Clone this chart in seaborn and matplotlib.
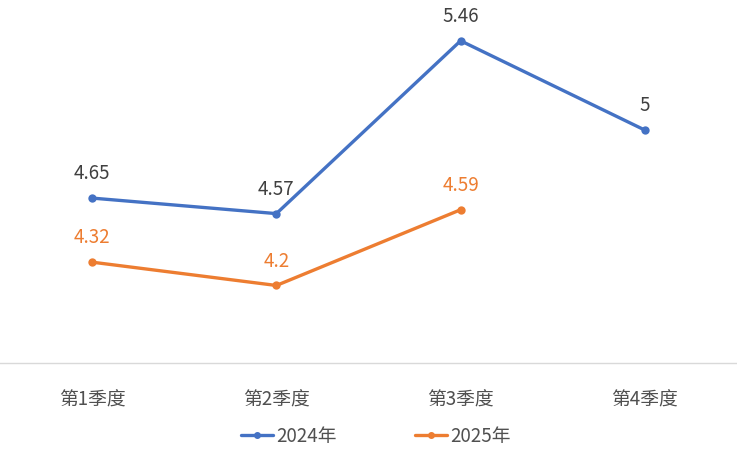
import matplotlib.pyplot as plt
import numpy as np
import pandas as pd
import seaborn as sns

quarters = ['第1季度', '第2季度', '第3季度', '第4季度']
values_2024 = [4.65, 4.57, 5.46, 5.0]
values_2025 = [4.32, 4.2, 4.59, np.nan]
series_names = ['2024年', '2025年']
colors = ['#4472C4', '#ED7D31']

sns.set_theme(style='white')
plt.rcParams['font.family'] = ['Noto Sans CJK SC', 'DejaVu Sans']

df = pd.DataFrame({
    'quarter': quarters * 2,
    'x': list(range(len(quarters))) * 2,
    'value': values_2024 + values_2025,
    'series': [series_names[0]] * 4 + [series_names[1]] * 4,
})

fig = plt.figure(figsize=(7.37, 4.5), dpi=100)
ax = fig.add_axes([0, 0.193, 1, 0.807])

sns.lineplot(data=df, x='x', y='value', hue='series', palette=colors,
             marker='o', markersize=6, markeredgewidth=0, linewidth=2.4,
             ax=ax, legend=False)

# data labels
label_colors = ['#404040', colors[1]]
for vals, c in zip([values_2024, values_2025], label_colors):
    for i, v in enumerate(vals):
        if np.isnan(v):
            continue
        txt = f'{v:g}'
        ax.annotate(txt, (i, v), xytext=(0, 10), textcoords='offset points',
                    ha='center', va='bottom', fontsize=13.5, color=c)

ax.set_xlim(-0.5, 3.5)
ax.set_ylim(3.8, 5.67)
ax.set_yticks([])
ax.set_xticks(range(len(quarters)))
ax.set_xticklabels(quarters, fontsize=13.5, color='#505050')
ax.set_xticks([0.5, 1.5, 2.5], minor=True)
ax.tick_params(axis='x', which='major', length=0, pad=19)
ax.tick_params(axis='x', which='minor', length=5, color='#d9d9d9', width=1)
ax.set_xlabel('')
ax.set_ylabel('')
for s in ['top', 'left', 'right']:
    ax.spines[s].set_visible(False)
ax.spines['bottom'].set_color('#d9d9d9')
ax.spines['bottom'].set_linewidth(1)

handles = [plt.Line2D([], [], color=c, marker='o', markersize=4, linewidth=2.4)
           for c in colors]
fig.legend(handles, series_names, loc='center', bbox_to_anchor=(0.51, 0.03),
           ncol=2, frameon=False, fontsize=13.5, handlelength=1.7,
           handletextpad=0.15, columnspacing=4.2, labelcolor='#505050')

fig.savefig('out.png', dpi=100)
